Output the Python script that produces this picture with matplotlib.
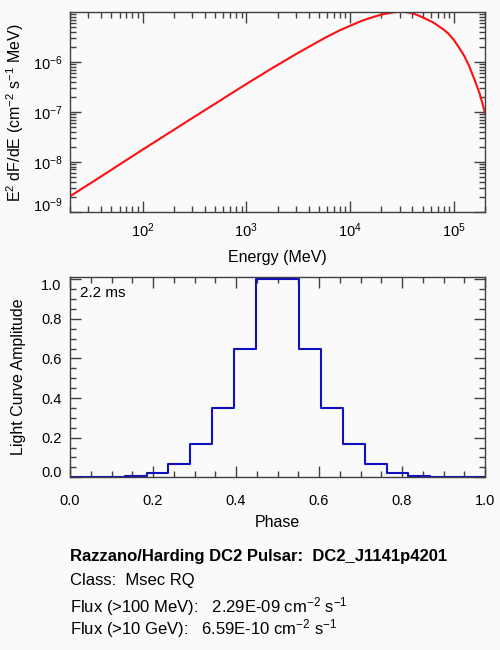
import matplotlib.pyplot as plt
from matplotlib.ticker import LogLocator, NullFormatter, MultipleLocator, FormatStrFormatter

# Data
# spectral energy distribution (MeV, cm^-2 s^-1 MeV)
energy = [20, 31.6, 100, 316, 1000, 1780, 3160, 5620, 7940, 1.0e4, 1.26e4,
          1.58e4, 2.0e4, 2.51e4, 2.82e4, 3.16e4, 3.55e4, 3.98e4, 4.47e4,
          5.01e4, 5.62e4, 6.31e4, 7.08e4, 7.94e4, 8.91e4, 1.0e5, 1.12e5,
          1.26e5, 1.41e5, 1.58e5, 1.78e5, 2.0e5]
e2dfde = [2.04e-9, 3.72e-9, 1.74e-8, 7.94e-8, 3.59e-7, 7.48e-7, 1.51e-6,
          2.95e-6, 4.26e-6, 5.25e-6, 6.47e-6, 7.59e-6, 8.81e-6, 9.64e-6,
          9.91e-6, 1.0e-5, 9.8e-6, 9.4e-6, 8.6e-6, 7.76e-6, 6.92e-6, 6.17e-6,
          5.25e-6, 4.47e-6, 3.63e-6, 2.75e-6, 1.95e-6, 1.32e-6, 8.1e-7,
          4.47e-7, 2.29e-7, 9.5e-8]

# light curve (20 phase bins)
phase = [0.000, 0.053, 0.105, 0.158, 0.211, 0.263, 0.316, 0.368, 0.421, 0.474,
         0.526, 0.579, 0.632, 0.684, 0.737, 0.789, 0.842, 0.895, 0.947, 1.000]
amplitude = [0.0, 0.0, 0.0, 0.005, 0.023, 0.069, 0.17, 0.348, 0.646, 1.0,
             1.0, 0.646, 0.348, 0.17, 0.069, 0.023, 0.005, 0.0, 0.0, 0.0]

period_label = "2.2 ms"
pulsar_name = "DC2_J1141p4201"
pulsar_class = "Msec RQ"
flux_100mev = "2.29E-09"
flux_10gev = "6.59E-10"

plt.rcParams['font.family'] = ['Liberation Sans', 'DejaVu Sans']
plt.rcParams['mathtext.fontset'] = 'custom'
plt.rcParams['mathtext.rm'] = 'Liberation Sans'
plt.rcParams['mathtext.it'] = 'Liberation Sans:italic'
plt.rcParams['mathtext.bf'] = 'Liberation Sans:bold'
plt.rcParams['font.size'] = 11.5

bg = "#fafafa"
frame = "#404040"

fig = plt.figure(figsize=(5, 6.5), dpi=100, facecolor=bg)
ax1 = fig.add_axes([0.14, 0.6743, 0.83, 0.3068], facecolor=bg)
ax2 = fig.add_axes([0.14, 0.2657, 0.83, 0.3077], facecolor=bg)

for ax in (ax1, ax2):
    for sp in ax.spines.values():
        sp.set_color(frame)
        sp.set_linewidth(1)
    ax.tick_params(which='both', direction='in', top=True, right=True,
                   color=frame, width=1, labelcolor='black', labelsize=10.5)
    ax.tick_params(which='major', length=8)
    ax.tick_params(which='minor', length=4)

# Top panel: spectrum
ax1.plot(energy, e2dfde, color='#ff1010', lw=1.5)
ax1.set_xscale('log')
ax1.set_yscale('log')
ax1.set_xlim(20, 2.0e5)
ax1.set_ylim(1e-9, 9.8e-6)
ax1.xaxis.set_minor_locator(LogLocator(base=10, subs=range(2, 10), numticks=20))
ax1.yaxis.set_minor_locator(LogLocator(base=10, subs=range(2, 10), numticks=20))
ax1.xaxis.set_minor_formatter(NullFormatter())
ax1.yaxis.set_minor_formatter(NullFormatter())
ax1.set_yticks([1e-9, 1e-8, 1e-7, 1e-6])
ax1.tick_params(axis='x', which='major', pad=7)
ax1.tick_params(axis='y', which='major', pad=5)
ax1.get_yticklabels()[0].set_va('baseline')
ax1.set_xlabel("Energy (MeV)", labelpad=7)
fig.text(15 / 500, 1 - 113 / 650, r"E$^2$ dF/dE (cm$^{-2}$ s$^{-1}$ MeV)",
         rotation=90, ha='center', va='center')

# Bottom panel: light curve
ax2.step(phase, amplitude, where='mid', color='#1010c0', lw=1.5)
ax2.set_xlim(0, 1)
ax2.set_ylim(0, 1.01)
ax2.xaxis.set_major_locator(MultipleLocator(0.2))
ax2.xaxis.set_minor_locator(MultipleLocator(0.05))
ax2.set_yticks([0.0, 0.2, 0.4, 0.6, 0.8, 1.0])
ax2.yaxis.set_minor_locator(MultipleLocator(0.05))
ax2.xaxis.set_major_formatter(FormatStrFormatter('%.1f'))
ax2.yaxis.set_major_formatter(FormatStrFormatter('%.1f'))
ax2.tick_params(axis='x', which='major', pad=12)
ax2.tick_params(axis='y', which='major', pad=6)
ylabs = ax2.get_yticklabels()
ylabs[0].set_va('baseline')
ylabs[-1].set_va('top')
ax2.set_xlabel("Phase", labelpad=5)
fig.text(19 / 500, 1 - 377 / 650, "Light Curve Amplitude",
         rotation=90, ha='center', va='center')
ax2.text(0.024, 0.92, period_label, transform=ax2.transAxes, va='center',
         fontsize=11)

# Info block
x0 = 70 / 500
fig.text(x0, 1 - 560.5 / 650, "Razzano/Harding DC2 Pulsar:  " + pulsar_name,
         fontweight='bold', va='baseline', fontsize=12)
fig.text(x0, 1 - 585 / 650, "Class:  " + pulsar_class, va='baseline', fontsize=12)
fig.text(x0, 1 - 612.5 / 650,
         "Flux (>100 MeV):   " + flux_100mev + r" cm$^{-2}$ s$^{-1}$",
         va='baseline', fontsize=12)
fig.text(x0, 1 - 634 / 650,
         "Flux (>10 GeV):   " + flux_10gev + r" cm$^{-2}$ s$^{-1}$",
         va='baseline', fontsize=12)

fig.savefig("out.png", dpi=100, facecolor=bg)
